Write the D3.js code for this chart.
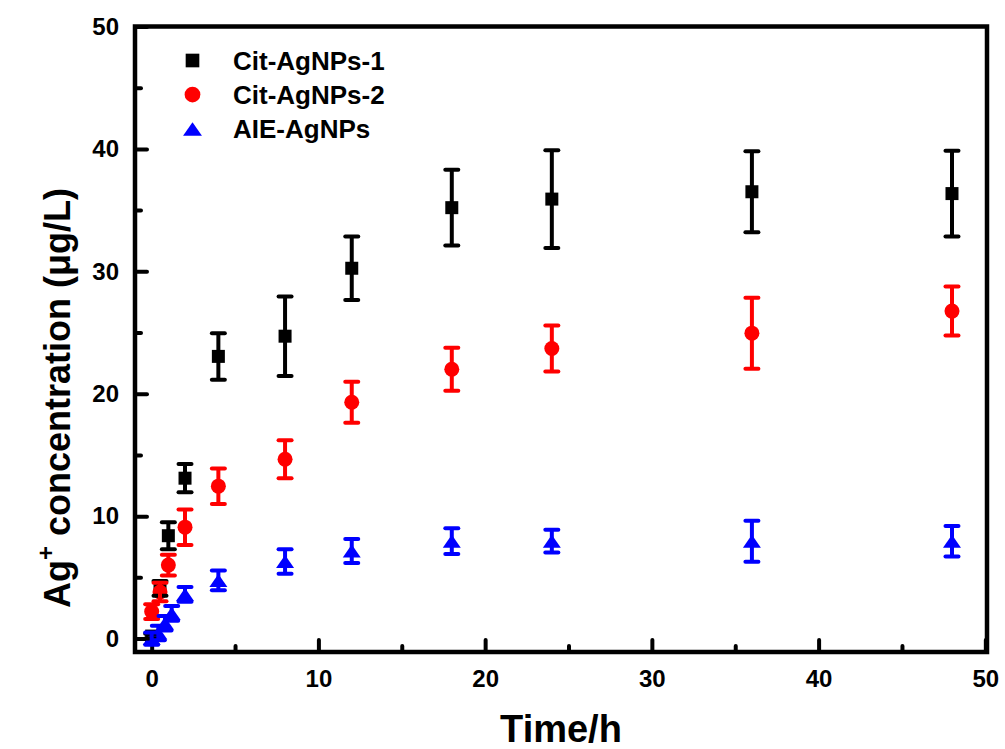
<!DOCTYPE html>
<html>
<head>
<meta charset="utf-8">
<script src="https://cdn.jsdelivr.net/npm/d3@7"></script>
<style>
  html, body { margin: 0; padding: 0; background: #fff; }
  svg { display: block; }
  text { font-family: "Liberation Sans", Arial, sans-serif; font-weight: bold; fill: #000; }
</style>
</head>
<body>
<svg id="chart" width="1005" height="749"></svg>
<script>
// ---- data ----
const timesCit = [0, 0.5, 1, 2, 4, 8, 12, 18, 24, 36, 48];
const cit1 = [0.2, 4.1, 8.4, 13.1, 23.05, 24.7, 30.25, 35.2, 35.9, 36.5, 36.35];
const cit1Err = [0.2, 0.6, 1.1, 1.15, 1.9, 3.25, 2.6, 3.1, 4.0, 3.3, 3.5];
const cit2 = [2.2, 3.8, 6.0, 9.1, 12.45, 14.65, 19.3, 22.0, 23.7, 24.95, 26.75];
const cit2Err = [0.6, 0.75, 0.85, 1.45, 1.45, 1.55, 1.67, 1.75, 1.88, 2.9, 2.0];
const timesAie = [0, 0.4, 0.8, 1.2, 2, 4, 8, 12, 18, 24, 36, 48];
const aie = [0, 0.45, 1.25, 2.05, 3.6, 4.75, 6.3, 7.15, 7.95, 7.95, 7.95, 7.95];
const aieErr = [0.5, 0.6, 0.6, 0.6, 0.6, 0.8, 1.0, 0.98, 1.05, 0.93, 1.68, 1.25];
const seriesNames = ["Cit-AgNPs-1", "Cit-AgNPs-2", "AIE-AgNPs"];
const seriesColors = ["#000000", "#ff0000", "#0000ff"];
const xMajorTicks = [0, 10, 20, 30, 40, 50];
const xMinorTicks = [5, 15, 25, 35, 45];
const yMajorTicks = [0, 10, 20, 30, 40, 50];
const yMinorTicks = [5, 15, 25, 35, 45];

const series = [
  { name: seriesNames[0], color: seriesColors[0], shape: "square", pts: timesCit.map((t, i) => ({ t, v: cit1[i], e: cit1Err[i] })) },
  { name: seriesNames[1], color: seriesColors[1], shape: "circle", pts: timesCit.map((t, i) => ({ t, v: cit2[i], e: cit2Err[i] })) },
  { name: seriesNames[2], color: seriesColors[2], shape: "triangle", pts: timesAie.map((t, i) => ({ t, v: aie[i], e: aieErr[i] })) }
];

const L = 135, R = 987, T = 26.5, B = 652;
const x = d3.scaleLinear().domain([-1, 50.1]).range([L, R]);
const y = d3.scaleLinear().domain([-1.1, 50]).range([B, T]);

const svg = d3.select("#chart");

// axes
const gx = svg.append("g").attr("transform", `translate(0,${B})`)
  .call(d3.axisBottom(x).tickValues(xMajorTicks).tickSizeInner(-12).tickSizeOuter(0).tickPadding(18).tickFormat(d3.format("d")));
const gxm = svg.append("g").attr("transform", `translate(0,${B})`)
  .call(d3.axisBottom(x).tickValues(xMinorTicks).tickSizeInner(-6).tickSizeOuter(0).tickFormat(""));
const gy = svg.append("g").attr("transform", `translate(${L},0)`)
  .call(d3.axisLeft(y).tickValues(yMajorTicks).tickSizeInner(-12).tickSizeOuter(0).tickPadding(16).tickFormat(d3.format("d")));
const gym = svg.append("g").attr("transform", `translate(${L},0)`)
  .call(d3.axisLeft(y).tickValues(yMinorTicks).tickSizeInner(-6).tickSizeOuter(0).tickFormat(""));
[gx, gxm, gy, gym].forEach(g => {
  g.select(".domain").remove();
  g.selectAll(".tick line").attr("stroke", "#000").attr("stroke-width", 4).attr("stroke-linecap", "round");
  g.selectAll(".tick text").attr("font-size", 24).attr("font-weight", "bold").attr("font-family", '"Liberation Sans", Arial, sans-serif').attr("fill", "#000");
});

// frame
svg.append("rect").attr("x", L).attr("y", T).attr("width", R - L).attr("height", B - T)
  .attr("fill", "none").attr("stroke", "#000").attr("stroke-width", 4.5);

// marker generator
function drawMarker(g, shape, color, cx, cy, scale) {
  const s = scale || 1;
  if (shape === "square") {
    const w = 13 * s;
    g.append("rect").attr("x", cx - w / 2).attr("y", cy - w / 2).attr("width", w).attr("height", w).attr("fill", color);
  } else if (shape === "circle") {
    g.append("circle").attr("cx", cx).attr("cy", cy).attr("r", 7.5 * s).attr("fill", color);
  } else {
    const w = 18 * s, h = 13 * s;
    g.append("path").attr("d", `M${cx},${cy - h / 2}L${cx + w / 2},${cy + h / 2}L${cx - w / 2},${cy + h / 2}Z`).attr("fill", color);
  }
}

// markers
const gMarks = svg.append("g");
series.forEach(s => {
  s.pts.forEach(p => drawMarker(gMarks, s.shape, s.color, x(p.t), y(p.v)));
});

// error bars
const gErr = svg.append("g");
series.forEach(s => {
  s.pts.forEach(p => {
    const cx = x(p.t), y1 = y(p.v + p.e), y2 = y(p.v - p.e);
    gErr.append("line").attr("x1", cx).attr("x2", cx).attr("y1", y1).attr("y2", y2)
      .attr("stroke", s.color).attr("stroke-width", 4);
    [y1, y2].forEach(yy => gErr.append("line").attr("x1", cx - 6.5).attr("x2", cx + 6.5).attr("y1", yy).attr("y2", yy)
      .attr("stroke", s.color).attr("stroke-width", 4).attr("stroke-linecap", "round"));
  });
});

// legend
const legY = [60.5, 94.5, 129];
const gLeg = svg.append("g");
series.forEach((s, i) => {
  drawMarker(gLeg, s.shape, s.color, 192.5, legY[i], 1.05);
  gLeg.append("text").attr("x", 233).attr("y", legY[i] + 9).attr("font-size", 26).text(s.name);
});

// axis titles
svg.append("text").attr("x", (L + R) / 2).attr("y", 742).attr("text-anchor", "middle")
  .attr("font-size", 38).text("Time/h");

const yt = svg.append("text").attr("transform", "translate(70,608) rotate(-90)")
  .attr("text-anchor", "start").attr("font-size", 36);
yt.append("tspan").text("Ag");
yt.append("tspan").attr("font-size", 24).attr("dy", -16).text("+");
yt.append("tspan").attr("dy", 16).text(" concentration ");
yt.append("tspan").text("(μg/L)");
</script>
</body>
</html>
